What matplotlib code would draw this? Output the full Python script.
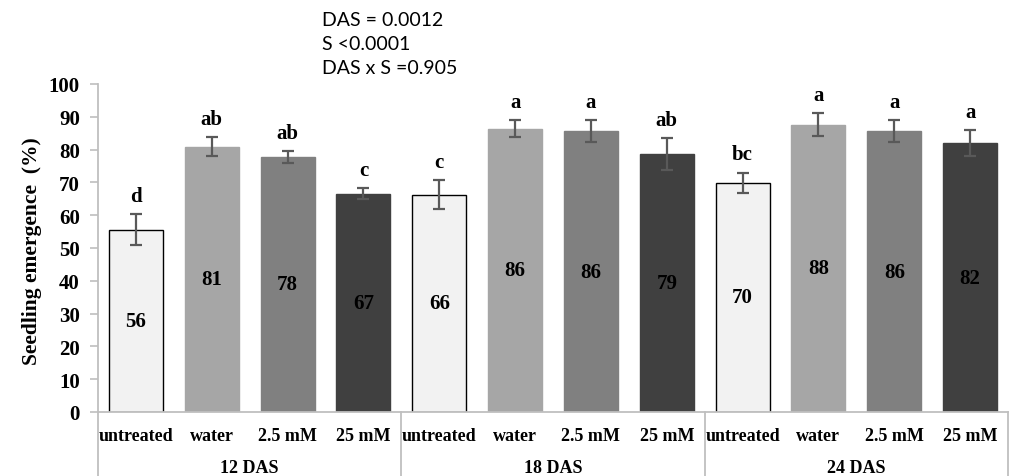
import matplotlib.pyplot as plt
import numpy as np

# data
groups = ["12 DAS", "18 DAS", "24 DAS"]
treatments = ["untreated", "water", "2.5 mM", "25 mM"]
emergence = [55.6, 80.8, 77.8, 66.6,
             66.3, 86.4, 85.6, 78.6,
             69.9, 87.6, 85.6, 82.0]
errors = [4.7, 2.9, 1.8, 1.7,
          4.5, 2.5, 3.4, 4.8,
          3.1, 3.6, 3.4, 4.0]
letters = ["d", "ab", "ab", "c",
           "c", "a", "a", "ab",
           "bc", "a", "a", "a"]
stats_text = ["DAS = 0.0012", "S <0.0001", "DAS x S =0.905"]

bar_colors = ["#F2F2F2", "#A6A6A6", "#808080", "#404040"]
edge_colors = ["#000000", "#A6A6A6", "#808080", "#404040"]
grid_gray = "#BFBFBF"
serif = "Liberation Serif"

W, H = 1013, 477
fig = plt.figure(figsize=(W / 100, H / 100), dpi=100)
ax = fig.add_axes([98 / W, 1 - 413 / H, (1008 - 98) / W, (413 - 85) / H])

n = len(emergence)
x = np.arange(n)
cols = [bar_colors[i % 4] for i in range(n)]
edges = [edge_colors[i % 4] for i in range(n)]

ax.bar(x, emergence, width=0.71, color=cols, edgecolor=edges, linewidth=1.0, zorder=2)
ax.errorbar(x, emergence, yerr=errors, fmt="none", ecolor="#595959",
            elinewidth=1.6, capsize=4.5, capthick=1.6, zorder=3)

for i in range(n):
    # value in the middle of the bar
    ax.text(x[i], emergence[i] / 2, "%d" % int(emergence[i] + 0.5), ha="center", va="center",
            fontsize=15, fontweight="bold", family=serif, color="black", zorder=4)
    # significance letter above the error bar
    ax.text(x[i], emergence[i] + errors[i] + 4.0, letters[i], ha="center", va="baseline",
            fontsize=15, fontweight="bold", family=serif, color="black")

ax.set_xlim(-0.5, n - 0.5)
ax.set_ylim(0, 100)
ax.set_yticks(np.arange(0, 101, 10))
ax.set_yticklabels([str(v) for v in range(0, 101, 10)], fontsize=15,
                   fontweight="bold", family=serif)
ax.tick_params(axis="y", direction="out", length=6, color=grid_gray, width=1.2, pad=7)

ax.set_xticks(x)
ax.set_xticklabels([treatments[i % 4] for i in range(n)], fontsize=13,
                   fontweight="bold", family=serif)
ax.tick_params(axis="x", length=0, pad=11)

for side in ["top", "right"]:
    ax.spines[side].set_visible(False)
ax.spines["left"].set_color(grid_gray)
ax.spines["bottom"].set_color(grid_gray)
ax.spines["left"].set_linewidth(1.3)
ax.spines["bottom"].set_linewidth(1.3)

# category table separators below the axis
trans = ax.get_xaxis_transform()
bottom_frac = -(H - 413) / (413 - 85)
for xs in [-0.5, 3.5, 7.5, 11.5]:
    ax.plot([xs, xs], [0, bottom_frac], color=grid_gray, lw=1.3,
            transform=trans, clip_on=False)
for g, name in enumerate(groups):
    ax.text(g * 4 + 1.5, -0.168, name, transform=trans, ha="center", va="center",
            fontsize=13, fontweight="bold", family=serif)

fig.text(32 / W, 1 - 251 / H, "Seedling emergence  (%)", rotation=90,
         ha="center", va="center", fontsize=15.5, fontweight="bold", family=serif)

for k, line in enumerate(stats_text):
    fig.text(322 / W, 1 - (21 + 24 * k) / H, line, ha="left", va="center",
             fontsize=14, family=["Lato", "DejaVu Sans"])

fig.savefig("out.png", dpi=100)
